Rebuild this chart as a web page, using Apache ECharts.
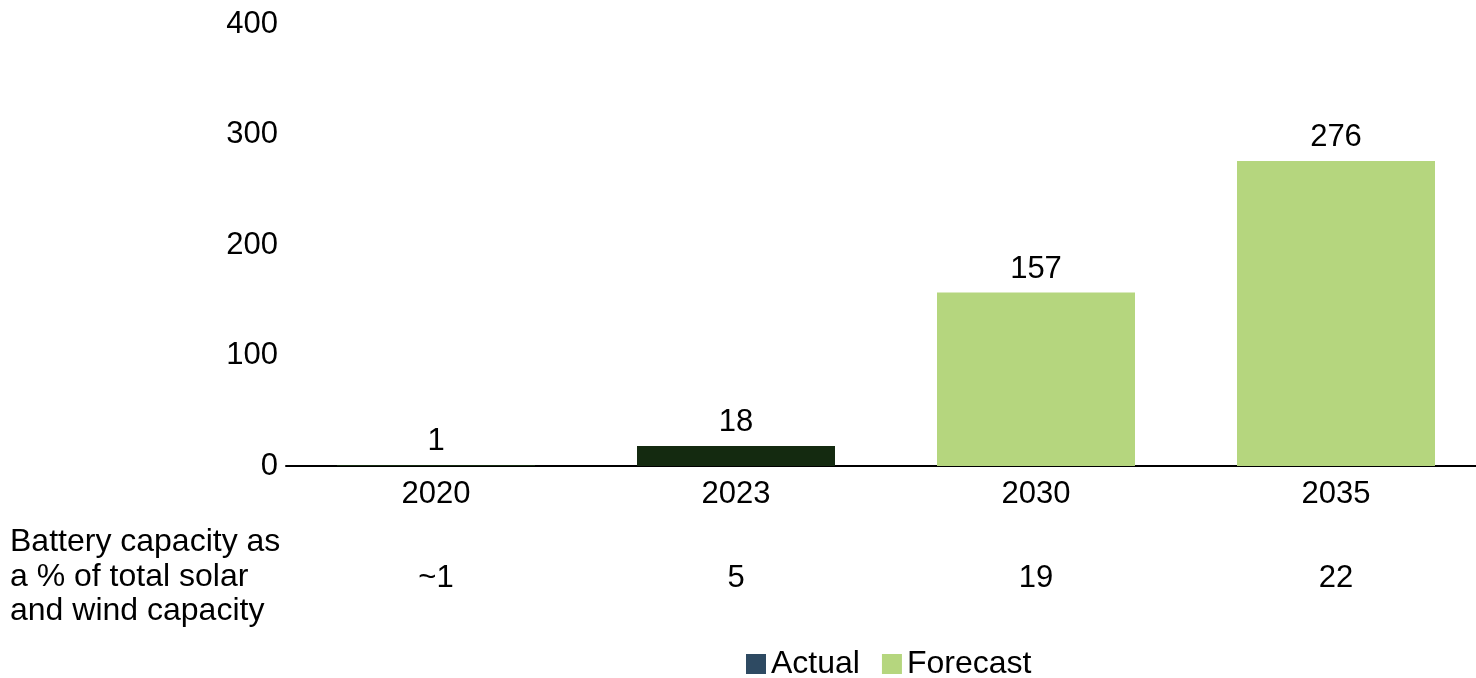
<!DOCTYPE html>
<html>
<head>
<meta charset="utf-8">
<script src="https://cdn.jsdelivr.net/npm/echarts@6/dist/echarts.min.js"></script>
<style>html,body{margin:0;padding:0;background:#fff}#c{width:1476px;height:678px}</style>
</head>
<body>
<div id="c"></div>
<script>
const categories = ['2020', '2023', '2030', '2035'];
const actualValues = [1, 18, null, null];
const forecastValues = [null, null, 157, 276];
const shareLabels = ['~1', '5', '19', '22'];
const shareTitle = 'Battery capacity as\na % of total solar\nand wind capacity';
const yTicks = [0, 100, 200, 300, 400];

const FONT = '"Liberation Sans", Arial, sans-serif';
const FS = 31;
const FT = 32;
const chart = echarts.init(document.getElementById('c'));
chart.setOption({
  animation: false,
  textStyle: { fontFamily: FONT, color: '#000' },
  grid: { left: 286, width: 1200, top: 24, height: 442, containLabel: false, outerBoundsMode: 'none' },
  legend: {
    top: 643, left: 741, itemWidth: 20, itemHeight: 20, itemGap: 22,
    icon: 'rect',
    textStyle: { fontFamily: FONT, fontSize: FT, color: '#000' },
    data: ['Actual', 'Forecast']
  },
  xAxis: [{
    type: 'category', data: categories,
    axisLine: { lineStyle: { color: '#000', width: 2 } },
    axisTick: { show: false },
    axisLabel: { fontSize: FS, color: '#000', fontFamily: FONT, margin: 13 }
  }, {
    type: 'category', data: shareLabels, position: 'bottom', offset: 97,
    axisLine: { show: false }, axisTick: { show: false },
    axisLabel: { fontSize: FS, color: '#000', fontFamily: FONT, margin: 0 }
  }],
  yAxis: {
    type: 'value', min: yTicks[0], max: yTicks[yTicks.length - 1], interval: 100,
    axisLine: { show: false }, axisTick: { show: false }, splitLine: { show: false },
    axisLabel: { fontSize: FS, color: '#000', fontFamily: FONT, margin: 8 }
  },
  graphic: [{
    type: 'text', left: 10, top: 525,
    style: { text: shareTitle, font: FT + 'px ' + FONT, fill: '#000', lineHeight: 34.5 }
  }],
  series: [{
    name: 'Actual', type: 'bar', data: actualValues, barWidth: '66%', barGap: '-100%',
    itemStyle: { color: '#2E4A62' },
    label: { show: true, position: 'top', distance: 8, fontSize: FS, color: '#000', fontFamily: FONT }
  }, {
    name: 'Forecast', type: 'bar', data: forecastValues, barWidth: '66%', barGap: '-100%',
    itemStyle: { color: '#B5D67E' },
    label: { show: true, position: 'top', distance: 8, fontSize: FS, color: '#000', fontFamily: FONT }
  }]
});
// the actual bars are drawn in dark green while the legend shows slate blue
chart.setOption({
  series: [{ data: actualValues.map(v => v == null ? null : { value: v, itemStyle: { color: '#142A10' } }) }]
});
</script>
</body>
</html>
